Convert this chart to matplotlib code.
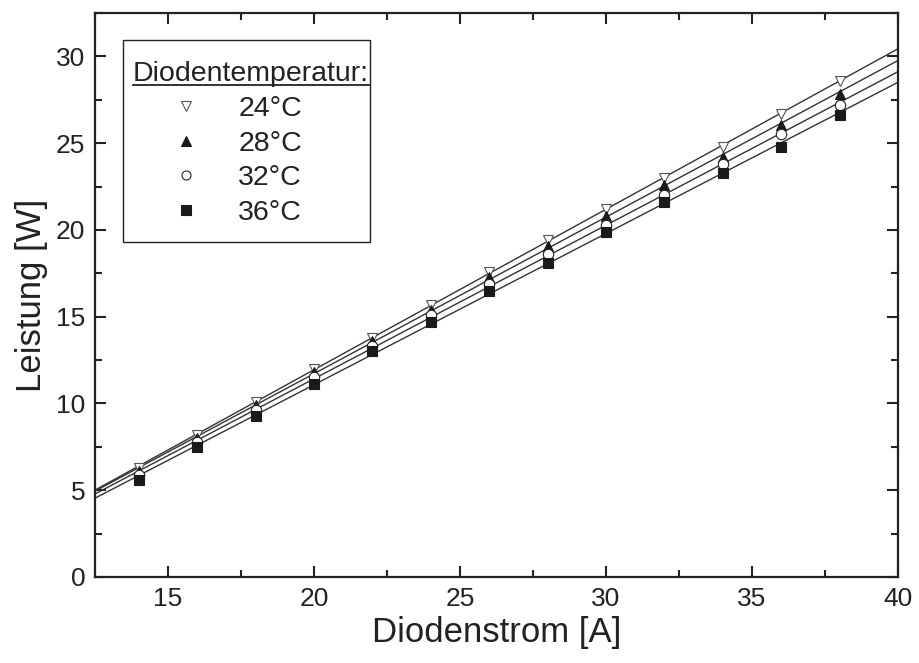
import numpy as np
import matplotlib
matplotlib.use("Agg")
import matplotlib.pyplot as plt
from matplotlib.lines import Line2D
from matplotlib.patches import Rectangle
from matplotlib.ticker import MultipleLocator

current = [14, 16, 18, 20, 22, 24, 26, 28, 30, 32, 34, 36, 38]
p24 = [6.3, 8.2, 10.1, 12.0, 13.8, 15.7, 17.6, 19.4, 21.2, 23.0, 24.8, 26.7, 28.6]
p28 = [6.1, 8.0, 9.9, 11.8, 13.6, 15.4, 17.3, 19.1, 20.8, 22.6, 24.2, 26.05, 27.85]
p32 = [5.9, 7.8, 9.6, 11.5, 13.3, 15.1, 16.9, 18.6, 20.3, 22.0, 23.8, 25.5, 27.2]
p36 = [5.6, 7.5, 9.3, 11.1, 13.0, 14.7, 16.5, 18.1, 19.9, 21.6, 23.3, 24.8, 26.6]
labels = ["24°C", "28°C", "32°C", "36°C"]
legend_title = "Diodentemperatur:"
xlabel = "Diodenstrom [A]"
ylabel = "Leistung [W]"

plt.rcParams['font.family'] = ['Liberation Sans', 'DejaVu Sans']

fig = plt.figure(figsize=(9.19, 6.63), dpi=100)
ax = fig.add_axes([95/919, 1-577/663, (898-95)/919, (577-13)/663])

styles = [
    dict(marker='v', mfc='white', mec='#555555', mew=0.8),
    dict(marker='^', mfc='#1a1a1a', mec='#1a1a1a', mew=0.8),
    dict(marker='o', mfc='white', mec='#222222', mew=0.8),
    dict(marker='s', mfc='#1a1a1a', mec='#1a1a1a', mew=0.8),
]
series = [p24, p28, p32, p36]
xfit = np.array([12.5, 40.0])
handles = []
for ys, st, lab in zip(series, styles, labels):
    c = np.polyfit(current, ys, 1)
    ax.plot(xfit, np.polyval(c, xfit), color='#333333', lw=1.0, zorder=2)
    ax.plot(current, ys, ls='none', ms=7.5, zorder=3, **st)
    handles.append(Line2D([], [], ls='none', ms=6.5, label=lab, **st))

ax.set_xlim(12.5, 40)
ax.set_ylim(0, 32.5)
ax.xaxis.set_major_locator(MultipleLocator(5))
ax.xaxis.set_minor_locator(MultipleLocator(2.5))
ax.yaxis.set_major_locator(MultipleLocator(5))
ax.yaxis.set_minor_locator(MultipleLocator(2.5))
ax.tick_params(which='both', direction='in', top=True, right=True, width=1.5,
               labelsize=19, colors='#222222')
ax.tick_params(which='major', length=8, pad=7)
ax.tick_params(which='minor', length=5)
for s in ax.spines.values():
    s.set_linewidth(1.6)
    s.set_color('#222222')

ax.set_xlabel(xlabel, fontsize=25, color='#222222', labelpad=4)
ax.set_ylabel(ylabel, fontsize=25, color='#222222', labelpad=6)

# legend frame drawn separately (title overflows it slightly, as in the original)
ax.add_patch(Rectangle((0.0349, 0.594), 0.3076, 0.3581, transform=ax.transAxes,
                       facecolor='white', edgecolor='#222222', lw=1.0, zorder=4))

leg = ax.legend(handles=handles, title=legend_title, loc='upper left',
                bbox_to_anchor=(0.0473, 0.915), fontsize=20.5, title_fontsize=20.5,
                frameon=False, handlelength=3.7, handletextpad=0.0,
                labelspacing=0.31, borderpad=0.0, borderaxespad=0, numpoints=1)
leg.get_title().set_color('#222222')
for t in leg.get_texts():
    t.set_color('#222222')
leg._legend_box.align = "left"
leg.set_zorder(5)

fig.canvas.draw()
tb = leg.get_title().get_window_extent()
inv = fig.transFigure.inverted()
(x0, y0), (x1, y1) = inv.transform([[tb.x0, tb.y0 + 2], [tb.x1, tb.y0 + 2]])
fig.add_artist(Line2D([x0, x1], [y0, y1], color='#222222', lw=1.3, zorder=10))

fig.savefig("out.png", dpi=100)
